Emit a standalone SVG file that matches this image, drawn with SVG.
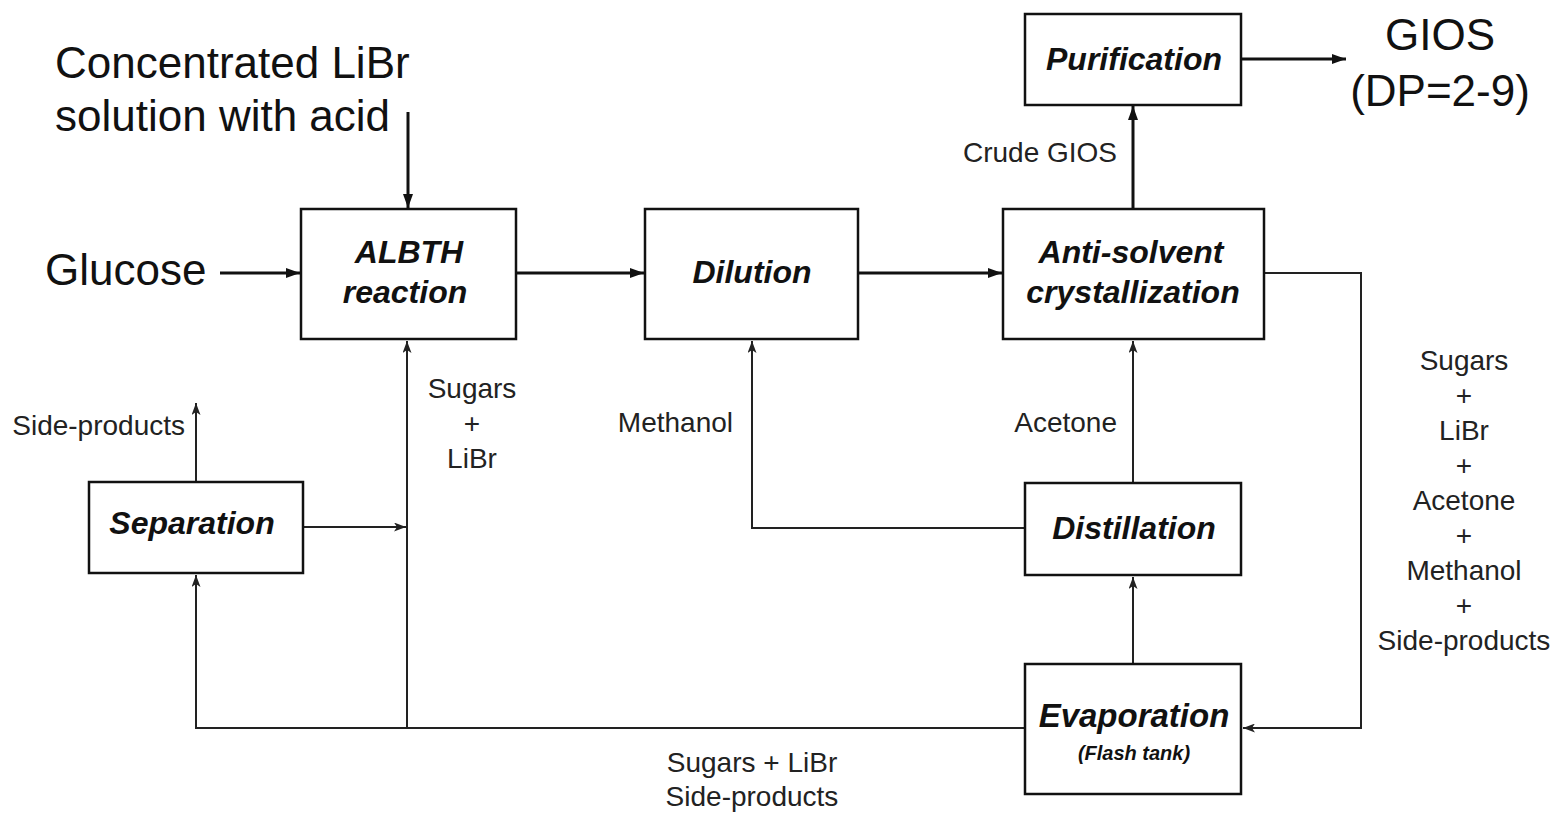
<svg xmlns="http://www.w3.org/2000/svg" width="1560" height="814" viewBox="0 0 1560 814">
<style>
.box{fill:#fff;stroke:#111;stroke-width:2.5}
.bl{font-family:"Liberation Sans",Arial,sans-serif;font-weight:bold;font-style:italic;font-size:32px;fill:#111;text-anchor:middle}
.big{font-family:"Liberation Sans",Arial,sans-serif;font-size:44px;fill:#111}
.sm{font-family:"Liberation Sans",Arial,sans-serif;font-size:28px;fill:#222}
.mid{text-anchor:middle}
.end{text-anchor:end}
.main{fill:none;stroke:#111;stroke-width:3}
.rec{fill:none;stroke:#222;stroke-width:2}
</style>
<defs>
<marker id="ah" viewBox="0 0 14 10" refX="14" refY="5" markerWidth="14" markerHeight="10" markerUnits="userSpaceOnUse" orient="auto">
<path d="M0,0 L14,5 L0,10 Z" fill="#111"/>
</marker>
<marker id="as" viewBox="0 0 12 9" refX="12" refY="4.5" markerWidth="12" markerHeight="9" markerUnits="userSpaceOnUse" orient="auto">
<path d="M0,0 L12,4.5 L0,9 L3,4.5 Z" fill="#222"/>
</marker>
</defs>

<g id="connectors">
<path class="main" d="M408,112 V208" marker-end="url(#ah)"/>
<path class="main" d="M220,273 H300" marker-end="url(#ah)"/>
<path class="main" d="M516,273 H644" marker-end="url(#ah)"/>
<path class="main" d="M858,273 H1002" marker-end="url(#ah)"/>
<path class="main" d="M1133,209 V106" marker-end="url(#ah)"/>
<path class="main" d="M1241,59 H1346" marker-end="url(#ah)"/>
<path class="rec" d="M1264,273 H1361 V728 H1243" marker-end="url(#as)"/>
<path class="rec" d="M1133,664 V577" marker-end="url(#as)"/>
<path class="rec" d="M1133,483 V341" marker-end="url(#as)"/>
<path class="rec" d="M1025,528 H752 V341" marker-end="url(#as)"/>
<path class="rec" d="M1025,728 H196 V575" marker-end="url(#as)"/>
<path class="rec" d="M407,728 V341" marker-end="url(#as)"/>
<path class="rec" d="M303,527 H406" marker-end="url(#as)"/>
<path class="rec" d="M196,482 V403" marker-end="url(#as)"/>
</g>

<g id="labels">
<text class="big" x="55" y="78">Concentrated LiBr</text>
<text class="big" x="55" y="131">solution with acid</text>
<text class="big" x="45" y="285">Glucose</text>
<text class="big mid" x="1440" y="50">GIOS</text>
<text class="big mid" x="1440" y="106">(DP=2-9)</text>
<text class="sm end" x="1117" y="162">Crude GIOS</text>
<text class="sm end" x="1117" y="432">Acetone</text>
<text class="sm end" x="733" y="432">Methanol</text>
<text class="sm end" x="185" y="435">Side-products</text>
<text class="sm mid" x="472" y="398">Sugars</text>
<text class="sm mid" x="472" y="433">+</text>
<text class="sm mid" x="472" y="468">LiBr</text>
<text class="sm mid" x="1464" y="370">Sugars</text>
<text class="sm mid" x="1464" y="405">+</text>
<text class="sm mid" x="1464" y="440">LiBr</text>
<text class="sm mid" x="1464" y="475">+</text>
<text class="sm mid" x="1464" y="510">Acetone</text>
<text class="sm mid" x="1464" y="545">+</text>
<text class="sm mid" x="1464" y="580">Methanol</text>
<text class="sm mid" x="1464" y="615">+</text>
<text class="sm mid" x="1464" y="650">Side-products</text>
<text class="sm mid" x="752" y="772">Sugars + LiBr</text>
<text class="sm mid" x="752" y="806">Side-products</text>
</g>

<g id="albth">
<rect class="box" x="301" y="209" width="215" height="130"/>
<text class="bl" x="409" y="263">ALBTH</text>
<text class="bl" x="405" y="303">reaction</text>
</g>
<g id="dilution">
<rect class="box" x="645" y="209" width="213" height="130"/>
<text class="bl" x="752" y="283">Dilution</text>
</g>
<g id="antisolvent">
<rect class="box" x="1003" y="209" width="261" height="130"/>
<text class="bl" x="1131" y="263">Anti-solvent</text>
<text class="bl" x="1133" y="303">crystallization</text>
</g>
<g id="purification">
<rect class="box" x="1025" y="14" width="216" height="91"/>
<text class="bl" x="1134" y="70">Purification</text>
</g>
<g id="distillation">
<rect class="box" x="1025" y="483" width="216" height="92"/>
<text class="bl" x="1134" y="539">Distillation</text>
</g>
<g id="evaporation">
<rect class="box" x="1025" y="664" width="216" height="130"/>
<text class="bl" x="1134" y="727" style="font-size:33px">Evaporation</text>
<text class="bl" x="1134" y="760" style="font-size:20px">(Flash tank)</text>
</g>
<g id="separation">
<rect class="box" x="89" y="482" width="214" height="91"/>
<text class="bl" x="192" y="534">Separation</text>
</g>
</svg>
